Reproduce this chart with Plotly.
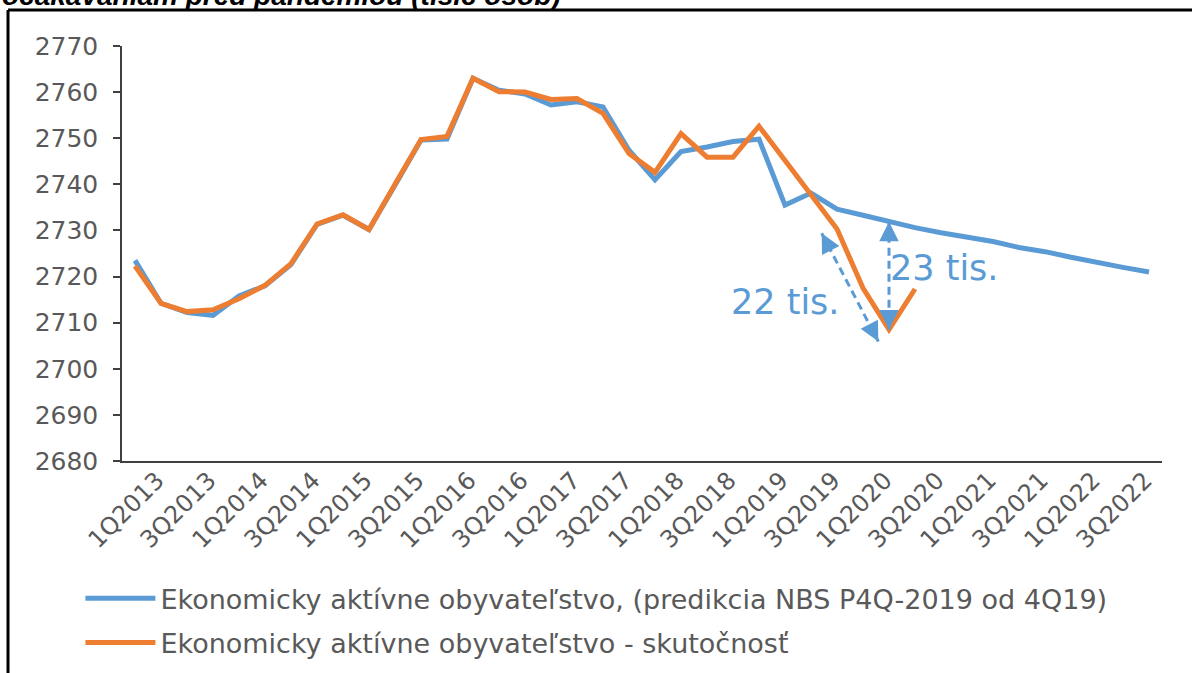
import plotly.graph_objects as go

quarters = [
    "1Q2013", "2Q2013", "3Q2013", "4Q2013",
    "1Q2014", "2Q2014", "3Q2014", "4Q2014",
    "1Q2015", "2Q2015", "3Q2015", "4Q2015",
    "1Q2016", "2Q2016", "3Q2016", "4Q2016",
    "1Q2017", "2Q2017", "3Q2017", "4Q2017",
    "1Q2018", "2Q2018", "3Q2018", "4Q2018",
    "1Q2019", "2Q2019", "3Q2019", "4Q2019",
    "1Q2020", "2Q2020", "3Q2020", "4Q2020",
    "1Q2021", "2Q2021", "3Q2021", "4Q2021",
    "1Q2022", "2Q2022", "3Q2022", "4Q2022",
]
tick_labels = quarters[::2]

prediction = [
    2723.5, 2714.2, 2712.2, 2711.6, 2715.8, 2718.0, 2722.6, 2731.3,
    2733.3, 2730.2, 2739.8, 2749.6, 2749.8, 2763.0, 2760.4, 2759.6,
    2757.2, 2757.9, 2756.8, 2747.4, 2741.0, 2747.1, 2748.1, 2749.3,
    2749.8, 2735.5, 2738.1, 2734.6, 2733.3, 2731.9, 2730.6, 2729.5,
    2728.5, 2727.6, 2726.3, 2725.4, 2724.2, 2723.0, 2722.0, 2721.0,
]
actual = [
    2722.3, 2714.2, 2712.4, 2712.8, 2715.2, 2718.1, 2722.8, 2731.4,
    2733.4, 2730.2, 2740.0, 2749.7, 2750.4, 2763.0, 2760.1, 2760.0,
    2758.4, 2758.6, 2755.4, 2746.7, 2742.6, 2751.0, 2745.9, 2745.9,
    2752.6, 2745.2, 2737.9, 2730.3, 2717.5, 2708.5, 2717.3,
]

name_pred = "Ekonomicky aktívne obyvateľstvo, (predikcia NBS P4Q-2019 od 4Q19)"
name_act = "Ekonomicky aktívne obyvateľstvo - skutočnosť"
title_text = "očakávaniam pred pandémiou (tisíc osôb)"

# annotation arrows (category index, value)
gap_idx = 29                      # 2Q2020: vertical gap prediction vs actual
diag_top = (26.41, 2729.4)
diag_bot = (28.59, 2705.9)
label23 = (28.95, 2721.9, "23 tis.")
label22 = (22.85, 2714.5, "22 tis.")

BLUE = "#5B9BD5"
ORANGE = "#ED7D31"
GREY = "#595959"
AXIS = "#404040"
FONT = "DejaVu Sans"

fig = go.Figure()
fig.add_trace(go.Scatter(x=quarters[:len(prediction)], y=prediction, mode="lines",
                         name=name_pred, legendgroup="p", line=dict(color=BLUE, width=5)))
fig.add_trace(go.Scatter(x=quarters[:len(actual)], y=actual, mode="lines",
                         name=name_act, legendgroup="a", line=dict(color=ORANGE, width=5)))


def dashed_double_arrow(p0, p1):
    fig.add_shape(type="line", xref="x", yref="y", x0=p0[0], y0=p0[1], x1=p1[0], y1=p1[1],
                  line=dict(color=BLUE, width=3, dash="8px,5px"))
    for head, other in ((p0, p1), (p1, p0)):
        tail = (head[0] + 0.15 * (other[0] - head[0]), head[1] + 0.15 * (other[1] - head[1]))
        fig.add_annotation(x=head[0], y=head[1], ax=tail[0], ay=tail[1], axref="x", ayref="y",
                           xref="x", yref="y", text="", showarrow=True, arrowhead=2,
                           arrowsize=1.3, arrowwidth=3, arrowcolor=BLUE, standoff=0)


dashed_double_arrow((gap_idx, prediction[gap_idx]), (gap_idx, actual[gap_idx]))
dashed_double_arrow(diag_top, diag_bot)

for lx, ly, lt in (label23, label22):
    fig.add_annotation(x=lx, y=ly, text=lt, showarrow=False, xanchor="left", yanchor="middle",
                       font=dict(family=FONT, size=35, color=BLUE))

# frame of the original figure
fig.add_shape(type="line", xref="paper", yref="paper", x0=-0.1096, x1=1.1, y0=1.0867, y1=1.0867,
              line=dict(color="black", width=3))
fig.add_shape(type="line", xref="paper", yref="paper", x0=-0.1096, x1=-0.1096, y0=1.0867, y1=-0.6,
              line=dict(color="black", width=3))
fig.add_annotation(xref="paper", yref="paper", x=-0.1173, y=1.1205, xanchor="left", yanchor="middle",
                   text="<b><i>" + title_text + "</i></b>", showarrow=False,
                   font=dict(family="Liberation Sans", size=28, color="black"))

fig.update_layout(
    width=1192, height=673,
    margin=dict(l=122, r=30, t=46, b=212, autoexpand=False),
    paper_bgcolor="white", plot_bgcolor="white",
    font=dict(family=FONT, color=GREY),
    showlegend=True,
    legend=dict(x=-0.04, y=-0.273, xanchor="left", yanchor="top", orientation="v",
                font=dict(family=FONT, size=27, color=GREY), itemwidth=70,
                tracegroupgap=6, bgcolor="rgba(0,0,0,0)"),
    xaxis=dict(type="category", categoryorder="array", categoryarray=quarters,
               range=[-0.5, len(quarters) - 0.5], tickmode="array", tickvals=tick_labels,
               ticktext=tick_labels, tickangle=-45, ticks="", showline=True, linecolor=AXIS,
               linewidth=1.5, showgrid=False, zeroline=False, ticklabelshift=22,
               ticklabelstandoff=-6, automargin=False,
               tickfont=dict(family=FONT, size=24, color=GREY)),
    yaxis=dict(range=[2680, 2770], dtick=10, tick0=2680, ticks="outside", ticklen=7,
               tickcolor=AXIS, tickwidth=1.5, showline=True, linecolor=AXIS, linewidth=1.5,
               showgrid=False, zeroline=False, ticklabelstandoff=10, automargin=False,
               tickfont=dict(family=FONT, size=25, color=GREY)),
)

fig.write_html("out.html", config={"displayModeBar": False},
               post_script="document.body.style.margin='0px';")
